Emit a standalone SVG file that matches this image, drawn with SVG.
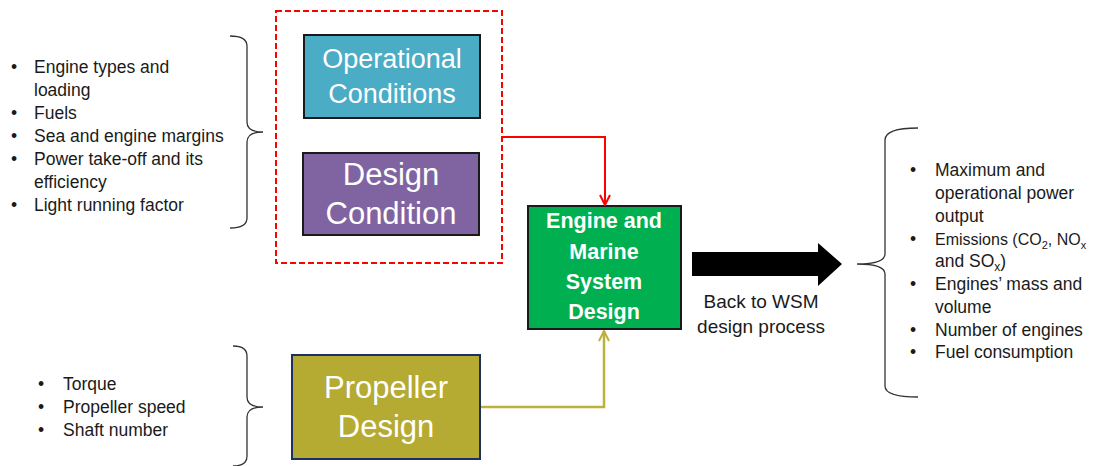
<svg xmlns="http://www.w3.org/2000/svg" width="1095" height="466" viewBox="0 0 1095 466">
<defs>
<style>
.lst{font-family:"Liberation Sans",Arial,sans-serif;font-size:17.5px;fill:#1a1a1a}
.box-t{font-family:"Liberation Sans",Arial,sans-serif;fill:#ffffff;text-anchor:middle}
.brace{fill:none;stroke:#333;stroke-width:1.3}
.sub{font-size:12px}
</style>
<marker id="arrRed" viewBox="0 0 12 12" refX="11" refY="6" markerWidth="12" markerHeight="12" markerUnits="userSpaceOnUse" orient="auto">
<path d="M1,1 L11,6 L1,11" fill="none" stroke="#ff0000" stroke-width="2"/>
</marker>
<marker id="arrOlive" viewBox="0 0 12 12" refX="11" refY="6" markerWidth="12" markerHeight="12" markerUnits="userSpaceOnUse" orient="auto">
<path d="M1,1 L11,6 L1,11" fill="none" stroke="#bdb13c" stroke-width="2"/>
</marker>
</defs>
<rect width="1095" height="466" fill="#ffffff"/>

<g id="inputs-list">
<path class="brace" d="M230,36 Q247,36 247,46 L247,122 Q247,132 263,132 Q247,132 247,142 L247,218 Q247,228 230,228"/>
<g class="lst">
<text x="11" y="73">•</text><text x="34" y="73">Engine types and</text>
<text x="34" y="96">loading</text>
<text x="11" y="119">•</text><text x="34" y="119">Fuels</text>
<text x="11" y="142">•</text><text x="34" y="142">Sea and engine margins</text>
<text x="11" y="165">•</text><text x="34" y="165">Power take-off and its</text>
<text x="34" y="188">efficiency</text>
<text x="11" y="211">•</text><text x="34" y="211">Light running factor</text>
</g>
</g>

<g id="propeller-list">
<path class="brace" d="M233,346 Q247,346 247,356 L247,397 Q247,407 263,407 Q247,407 247,417 L247,456 Q247,466 233,466"/>
<g class="lst">
<text x="38" y="390">•</text><text x="63" y="390">Torque</text>
<text x="38" y="413">•</text><text x="63" y="413">Propeller speed</text>
<text x="38" y="436">•</text><text x="63" y="436">Shaft number</text>
</g>
</g>

<g id="outputs-list">
<path class="brace" d="M918,128 Q885,128 885,140 L885,254 Q885,264 857,264 Q885,264 885,274 L885,386 Q885,397 918,397"/>
<g class="lst">
<text x="910" y="176">•</text><text x="935" y="176">Maximum and</text>
<text x="935" y="199">operational power</text>
<text x="935" y="222">output</text>
<text x="910" y="245">•</text><text x="935" y="245" font-size="16">Emissions (CO<tspan font-size="11" dy="4">2</tspan><tspan dy="-4">, NO</tspan><tspan font-size="11" dy="4">x</tspan></text>
<text x="935" y="267">and SO<tspan class="sub" dy="4">x</tspan><tspan dy="-4">)</tspan></text>
<text x="910" y="290">•</text><text x="935" y="290">Engines’ mass and</text>
<text x="935" y="313">volume</text>
<text x="910" y="336">•</text><text x="935" y="336">Number of engines</text>
<text x="910" y="358">•</text><text x="935" y="358">Fuel consumption</text>
</g>
</g>

<g id="conditions-group">
<rect x="276" y="11" width="226" height="252" fill="none" stroke="#ff0000" stroke-width="2" stroke-dasharray="6,3"/>
</g>

<g id="operational-conditions">
<rect x="304" y="35" width="176" height="83" fill="#4bacc6" stroke="#1a1a1a" stroke-width="2"/>
<text class="box-t" x="392" y="68" font-size="27">Operational</text>
<text class="box-t" x="392" y="103" font-size="27">Conditions</text>
</g>

<g id="design-condition">
<rect x="303" y="153" width="176" height="82" fill="#8064a2" stroke="#1a1a1a" stroke-width="2"/>
<text class="box-t" x="391" y="185" font-size="31">Design</text>
<text class="box-t" x="391" y="224" font-size="31">Condition</text>
</g>

<g id="engine-marine-system-design">
<rect x="528" y="206" width="153" height="123" fill="#00b050" stroke="#1a1a1a" stroke-width="2"/>
<g class="box-t" font-size="21.5" font-weight="bold">
<text x="604" y="228">Engine and</text>
<text x="604" y="259">Marine</text>
<text x="604" y="289">System</text>
<text x="604" y="319">Design</text>
</g>
</g>

<g id="propeller-design">
<rect x="292" y="355" width="188" height="104" fill="#b5aa32" stroke="#1f2f5f" stroke-width="2"/>
<text class="box-t" x="386" y="398" font-size="31">Propeller</text>
<text class="box-t" x="386" y="437" font-size="31">Design</text>
</g>

<g id="connectors">
<path d="M502,137 L605,137 L605,205" fill="none" stroke="#ff0000" stroke-width="2" marker-end="url(#arrRed)"/>
<path d="M481,407 L604,407 L604,331" fill="none" stroke="#bdb13c" stroke-width="2.5" marker-end="url(#arrOlive)"/>
<polygon points="692,252 818,252 818,243 842,264 818,286 818,276 692,276" fill="#000000"/>
<g font-family="'Liberation Sans',Arial,sans-serif" font-size="19" fill="#1a1a1a" text-anchor="middle">
<text x="761" y="308">Back to WSM</text>
<text x="761" y="333">design process</text>
</g>
</g>
</svg>
